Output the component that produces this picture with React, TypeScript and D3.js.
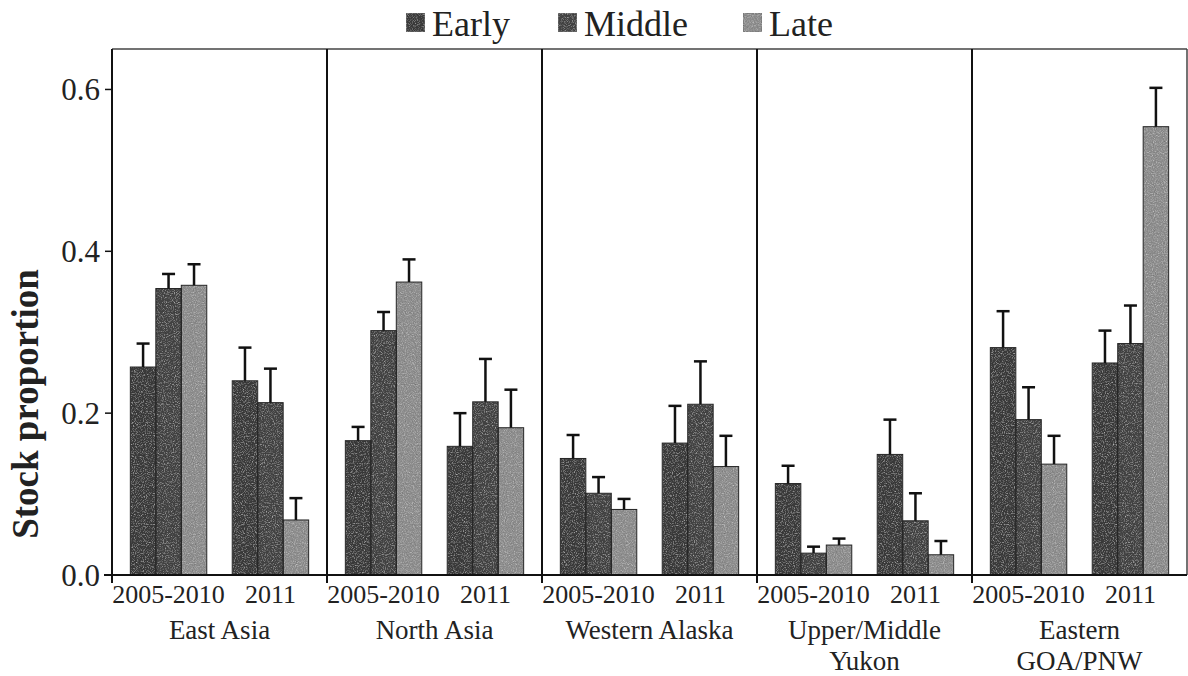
import React from "react";
import * as d3 from "d3";

const regions = ["East Asia", "North Asia", "Western Alaska", "Upper/Middle Yukon", "Eastern GOA/PNW"];
const regionLines = [["East Asia"], ["North Asia"], ["Western Alaska"], ["Upper/Middle", "Yukon"], ["Eastern", "GOA/PNW"]];
const periods = ["2005-2010", "2011"];
const stages = ["Early", "Middle", "Late"];
const yTicks = [0, 0.2, 0.4, 0.6];

// values in order: region x period
const earlyValues = [0.257, 0.240, 0.166, 0.159, 0.144, 0.163, 0.113, 0.149, 0.281, 0.262];
const middleValues = [0.354, 0.213, 0.302, 0.214, 0.101, 0.211, 0.027, 0.067, 0.192, 0.286];
const lateValues = [0.358, 0.068, 0.362, 0.182, 0.081, 0.134, 0.037, 0.025, 0.137, 0.554];
const earlySE = [0.029, 0.041, 0.017, 0.041, 0.029, 0.046, 0.022, 0.043, 0.045, 0.040];
const middleSE = [0.018, 0.042, 0.023, 0.053, 0.020, 0.053, 0.008, 0.034, 0.040, 0.047];
const lateSE = [0.026, 0.027, 0.028, 0.047, 0.013, 0.038, 0.008, 0.017, 0.035, 0.048];

const stageColors = ["#3b3b3b", "#444444", "#8e8e8e"];

const W = 1188;
const H = 676;
const left = 112;
const right = 1187;
const top = 49;
const bottom = 575;
const FONT = "'Liberation Serif', 'Times New Roman', serif";

export default function App() {
  const y = d3.scaleLinear().domain([0, 0.65]).range([bottom, top]);
  const xRegion = d3.scaleBand<string>().domain(regions).range([left, right]).padding(0);
  const xPeriod = d3
    .scaleBand<string>()
    .domain(periods)
    .range([0, xRegion.bandwidth()])
    .paddingInner(0.25)
    .paddingOuter(0.18);
  const xStage = d3.scaleBand<string>().domain(stages).range([0, xPeriod.bandwidth()]).padding(0);

  const values = [earlyValues, middleValues, lateValues];
  const ses = [earlySE, middleSE, lateSE];

  const bars: any[] = [];
  regions.forEach((r, ri) => {
    periods.forEach((p, pi) => {
      const idx = ri * periods.length + pi;
      stages.forEach((s, si) => {
        const v = values[si][idx];
        const e = ses[si][idx];
        const x0 = (xRegion(r) as number) + (xPeriod(p) as number) + (xStage(s) as number);
        bars.push({ key: `${r}-${p}-${s}`, x: x0, w: xStage.bandwidth(), v, e, si });
      });
    });
  });

  const legendX = [406, 558, 743];

  return (
    <svg width={W} height={H} style={{ display: "block", position: "absolute", left: 0, top: 0, background: "#fff" }}>
      <defs>
        <filter id="grain" x="0" y="0" width="1" height="1">
          <feTurbulence type="fractalNoise" baseFrequency="0.9" numOctaves="2" seed="4" result="n" />
          <feColorMatrix in="n" type="saturate" values="0" result="g" />
          <feBlend in="SourceGraphic" in2="g" mode="overlay" result="b" />
          <feComposite in="b" in2="SourceGraphic" operator="in" />
        </filter>
      </defs>
      <rect x={0} y={0} width={W} height={H} fill="#fff" />

      {/* legend */}
      {stages.map((s, i) => (
        <g key={s}>
          <rect x={legendX[i]} y={13} width={19} height={19} fill={stageColors[i]} stroke="#777" strokeWidth={1} filter="url(#grain)" />
          <text x={legendX[i] + 26} y={36} fontFamily={FONT} fontSize={36} fill="#222">
            {s}
          </text>
        </g>
      ))}

      {/* frame top & right */}
      <line x1={left} x2={right} y1={top} y2={top} stroke="#444" strokeWidth={1.5} />
      <line x1={right} x2={right} y1={top} y2={bottom} stroke="#444" strokeWidth={1.5} />

      {/* bars */}
      {bars.map((b) => (
        <rect
          key={b.key}
          x={b.x}
          y={y(b.v)}
          width={b.w}
          height={y(0) - y(b.v)}
          fill={stageColors[b.si]}
          filter="url(#grain)"
        />
      ))}
      {bars.map((b) => (
        <rect
          key={b.key + "o"}
          x={b.x}
          y={y(b.v)}
          width={b.w}
          height={y(0) - y(b.v)}
          fill="none"
          stroke="#222"
          strokeWidth={1}
        />
      ))}
      {/* error bars */}
      {bars.map((b) => {
        const cx = b.x + b.w / 2;
        return (
          <g key={b.key + "e"} stroke="#111" strokeWidth={2.5}>
            <line x1={cx} x2={cx} y1={y(b.v)} y2={y(b.v + b.e)} />
            <line x1={cx - 6.5} x2={cx + 6.5} y1={y(b.v + b.e)} y2={y(b.v + b.e)} />
          </g>
        );
      })}

      {/* y axis */}
      <line x1={left} x2={left} y1={top} y2={bottom + 8} stroke="#111" strokeWidth={2} />
      {yTicks.map((t) => (
        <g key={t}>
          <line x1={left - 7} x2={left} y1={y(t)} y2={y(t)} stroke="#111" strokeWidth={1.5} />
          <text x={left - 12} y={y(t) + 11} textAnchor="end" fontFamily={FONT} fontSize={31} fill="#222">
            {d3.format(".1f")(t)}
          </text>
        </g>
      ))}
      <text
        transform={`translate(38, 404) rotate(-90)`}
        textAnchor="middle"
        fontFamily={FONT}
        fontSize={37}
        fontWeight="bold"
        fill="#222"
      >
        Stock proportion
      </text>

      {/* x baseline */}
      <line x1={left - 8} x2={right} y1={bottom} y2={bottom} stroke="#111" strokeWidth={2} />
      {/* panel dividers */}
      {regions.slice(1).map((r) => (
        <line
          key={r}
          x1={xRegion(r) as number}
          x2={xRegion(r) as number}
          y1={top}
          y2={bottom + 8}
          stroke="#111"
          strokeWidth={2}
        />
      ))}

      {/* period labels */}
      {regions.map((r) =>
        periods.map((p) => (
          <text
            key={r + p}
            x={(xRegion(r) as number) + (xPeriod(p) as number) + xPeriod.bandwidth() / 2}
            y={603}
            textAnchor="middle"
            fontFamily={FONT}
            fontSize={26}
            fill="#222"
          >
            {p}
          </text>
        ))
      )}
      {/* region labels */}
      {regions.map((r, ri) => (
        <text
          key={r}
          x={(xRegion(r) as number) + xRegion.bandwidth() / 2}
          y={639}
          textAnchor="middle"
          fontFamily={FONT}
          fontSize={27}
          fill="#222"
        >
          {regionLines[ri].map((line, li) => (
            <tspan key={li} x={(xRegion(r) as number) + xRegion.bandwidth() / 2} dy={li === 0 ? 0 : 31}>
              {line}
            </tspan>
          ))}
        </text>
      ))}
    </svg>
  );
}
